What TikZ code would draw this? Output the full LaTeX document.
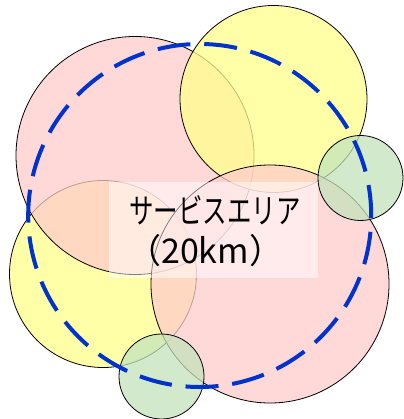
\documentclass[tikz,border=0pt]{standalone}
\usepackage{fontspec}
\newfontfamily\jpfont{Noto Sans CJK JP}
\newfontfamily\jpnarrow[FakeStretch=0.72]{Noto Sans CJK JP}
\definecolor{cpink}{HTML}{FFCCCC}
\definecolor{cyellow}{HTML}{FFFF8C}
\definecolor{cgreen}{HTML}{C4E4BA}
\definecolor{cblue}{HTML}{0033CC}
\begin{document}
\begin{tikzpicture}[x=1pt,y=-1pt,
  cell/.style={circle,draw=black,line width=0.8pt,fill opacity=0.75,inner sep=0pt,outer sep=0pt},
  arealine/.style={draw=cblue,line width=4pt,dash pattern=on 33pt off 13.85pt,dash phase=30.5pt},
  txt/.style={anchor=base west,inner sep=0pt,text=black}]
\useasboundingbox[fill=white] (0,0) rectangle (403,419);
\node[cell,fill=cyellow,minimum size=187pt] (yellowB) at (103,274) {};
\node[cell,fill=cpink,minimum size=238pt] (pinkA) at (135,155.5) {};
\node[cell,fill=cyellow,minimum size=187pt] (yellowA) at (273.5,99) {};
\node[cell,fill=cpink,minimum size=238pt] (pinkB) at (270,284) {};
\node[cell,fill=cgreen,minimum size=85pt] (greenA) at (360.5,178) {};
\node[cell,fill=cgreen,minimum size=85pt] (greenB) at (161.5,376.5) {};
\node[circle,inner sep=0pt,minimum size=343pt] (area) at (199.5,215.5) {};
\draw[arealine] (area.east) arc[start angle=0,delta angle=-360,radius=171.5pt];
\node[fill=white,fill opacity=0.5,minimum width=209pt,minimum height=96pt,inner sep=0pt] (box) at (213.5,230) {};
\node[txt,font=\jpnarrow\fontsize{34}{40}\selectfont] (t1) at (129,223) {サービスエリア};
\node[txt,font=\jpfont\fontsize{34}{40}\selectfont] (t2) at (127,263) {（20km）};
\end{tikzpicture}
\end{document}
